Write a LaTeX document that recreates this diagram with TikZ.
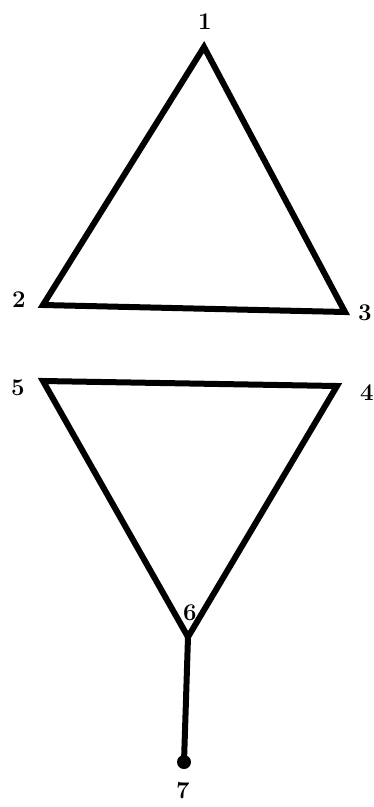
\documentclass[tikz,border=0pt]{standalone}
\begin{document}
\begin{tikzpicture}[x=1pt,y=-1pt,
  edge/.style={line width=6pt,line join=miter,line cap=round},
  lbl/.style={font=\bfseries\fontsize{24}{24}\selectfont,inner sep=0pt}]
\useasboundingbox (0,0) rectangle (373,807);
\coordinate (v1) at (204,47);
\coordinate (v2) at (43,305);
\coordinate (v3) at (345,312);
\coordinate (v5) at (43,381);
\coordinate (v4) at (337,386);
\coordinate (v6) at (188,637);
\coordinate (v7) at (184,762);
\draw[edge] (v1) -- (v2) -- (v3) -- cycle;
\draw[edge] (v5) -- (v4) -- (v6) -- cycle;
\draw[edge] (v6) -- (v7);
\fill (v7) circle (7);
\node[lbl] (l1) at (205,22) {1};
\node[lbl] (l2) at (19,300) {2};
\node[lbl] (l3) at (365,313) {3};
\node[lbl] (l5) at (18,388) {5};
\node[lbl] (l4) at (367,393) {4};
\node[lbl] (l6) at (190,613) {6};
\node[lbl] (l7) at (183,791) {7};
\end{tikzpicture}
\end{document}
